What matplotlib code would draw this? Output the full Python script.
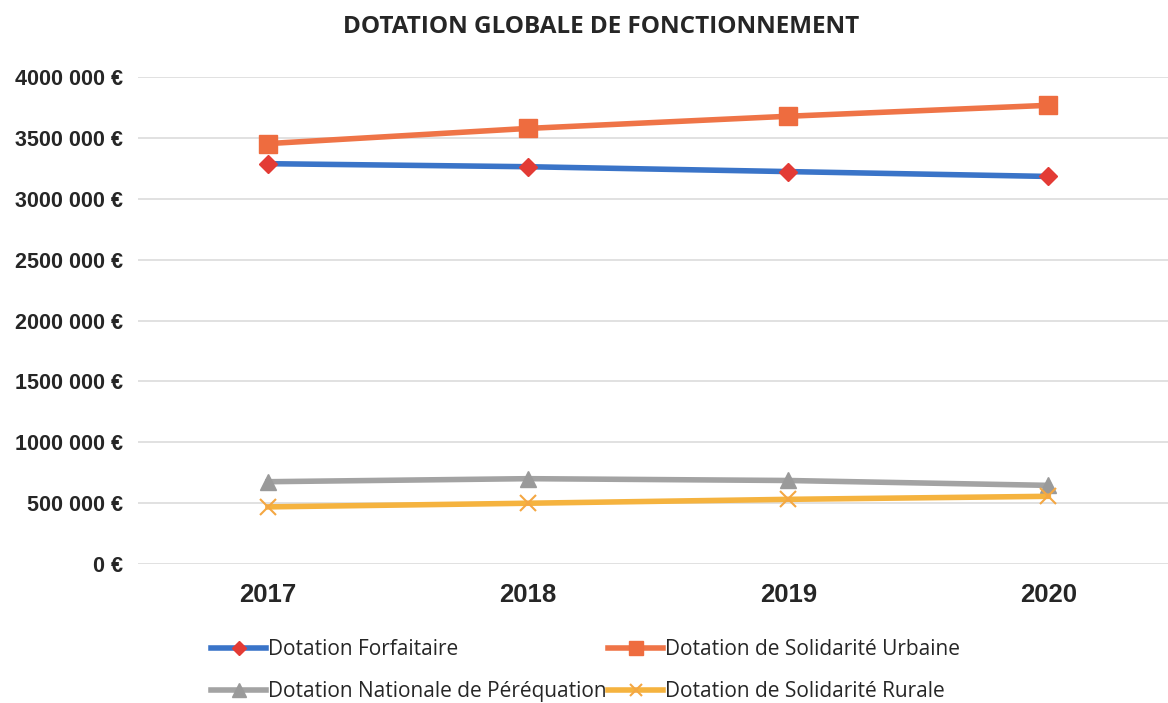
import matplotlib.pyplot as plt
from matplotlib.ticker import FuncFormatter

years = ["2017", "2018", "2019", "2020"]
forfaitaire = [3290000, 3265000, 3225000, 3185000]
solidarite_urbaine = [3455000, 3580000, 3680000, 3770000]
nationale_perequation = [675000, 700000, 685000, 645000]
solidarite_rurale = [468000, 498000, 530000, 555000]
y_ticks = [0, 500000, 1000000, 1500000, 2000000, 2500000, 3000000, 3500000, 4000000]


def euro(v, _pos=None):
    if v == 0:
        return "0 €"
    return f"{int(v) // 1000} 000 €"


fig = plt.figure(figsize=(11.68, 7.03), dpi=100)
ax = fig.add_axes([0.118, 0.198, 0.882, 0.692])

x = range(len(years))
h1, = ax.plot(x, forfaitaire, color="#3a74c8", lw=4, marker="D", ms=9,
              mfc="#e33b35", mec="#e33b35", label="Dotation Forfaitaire")
h2, = ax.plot(x, solidarite_urbaine, color="#ef7447", lw=4, marker="s", ms=13,
              mfc="#ee6c3f", mec="#ee6c3f", label="Dotation de Solidarité Urbaine")
h3, = ax.plot(x, nationale_perequation, color="#a3a3a3", lw=4, marker="^", ms=12,
              mfc="#9a9a9a", mec="#9a9a9a", label="Dotation Nationale de Péréquation")
h4, = ax.plot(x, solidarite_rurale, color="#f5b33f", lw=4, marker="x", ms=11, mew=1.5,
              mec="#f4a742", label="Dotation de Solidarité Rurale")

ax.set_xlim(-0.5, 3.46)
ax.set_ylim(0, 4000000)
ax.set_yticks(y_ticks)
ax.yaxis.set_major_formatter(FuncFormatter(euro))
ax.set_xticks(list(x))
ax.set_xticklabels(years)
ax.grid(axis="y", color="#dcdcdc", lw=1.2)
ax.set_axisbelow(True)
for s in ax.spines.values():
    s.set_visible(False)
ax.tick_params(length=0)
ax.tick_params(axis="y", pad=11, labelsize=15.5)
ax.tick_params(axis="x", pad=14, labelsize=18.5)
for lab in ax.get_yticklabels() + ax.get_xticklabels():
    lab.set_fontweight("bold")
    lab.set_color("#262626")
    lab.set_family("Liberation Sans")

fig.text(0.515, 0.962, "DOTATION GLOBALE DE FONCTIONNEMENT", ha="center", va="center",
         fontsize=17.5, fontweight="bold", color="#262626", family="Open Sans")

fig.legend([h1, h3, h2, h4],
           [h1.get_label(), h3.get_label(), h2.get_label(), h4.get_label()],
           ncol=2, loc="lower left", bbox_to_anchor=(0.165, -0.025), frameon=False,
           prop={"family": "Open Sans", "size": 15}, handlelength=2.6,
           handletextpad=0.1, columnspacing=0.1, labelspacing=1.0,
           markerscale=0.8, labelcolor="#262626")

fig.savefig("out.png", dpi=100)
